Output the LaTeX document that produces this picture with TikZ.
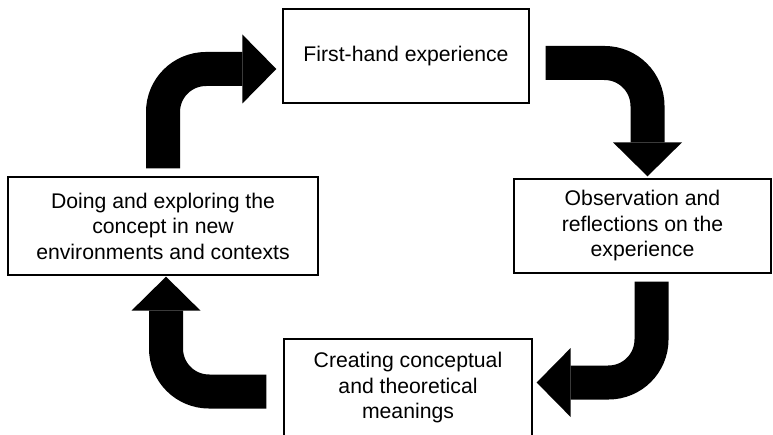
\documentclass[tikz,border=0pt]{standalone}
\usepackage{fontspec}
\setmainfont{Liberation Sans}
\usetikzlibrary{arrows.meta}

\begin{document}
\begin{tikzpicture}[
    x=1pt, y=-1pt,
    box/.style={rectangle, draw, line width=1.3pt, align=center, inner sep=0pt, font=\fontsize{21.2}{25.5}\selectfont},
    bigarrow/.style={line width=34pt, rounded corners=43pt, -{Triangle[width=69pt, length=34pt, line width=0pt]}}
]
\useasboundingbox (0,0) rectangle (773,435);

% Stages of the cycle
\node[box, minimum width=246pt, minimum height=94pt] (exp) at (406,56) {First-hand experience};
\node[box, minimum width=257pt, minimum height=94pt] (obs) at (642.5,226) {Observation and\\reflections on the\\experience};
\node[box, minimum width=248pt, minimum height=98pt] (cre) at (408,388) {Creating conceptual\\and theoretical\\meanings};
\node[box, minimum width=310pt, minimum height=98pt] (doi) at (163,226) {Doing and exploring the\\concept in new\\environments and contexts};

% Turning arrows between the stages
\draw[bigarrow] ([yshift=8pt]doi.north) |- ([xshift=-6pt, yshift=-13pt]exp.west);
\draw[bigarrow] ([xshift=16pt, yshift=-7pt]exp.east) -| ([xshift=5pt, yshift=2pt]obs.north);
\draw[bigarrow] ([xshift=9pt, yshift=-8pt]obs.south) |- ([xshift=4pt, yshift=5.5pt]cre.east);
\draw[bigarrow] ([xshift=-17pt, yshift=-3.5pt]cre.west) -| ([xshift=3pt, yshift=-1pt]doi.south);
\end{tikzpicture}
\end{document}
